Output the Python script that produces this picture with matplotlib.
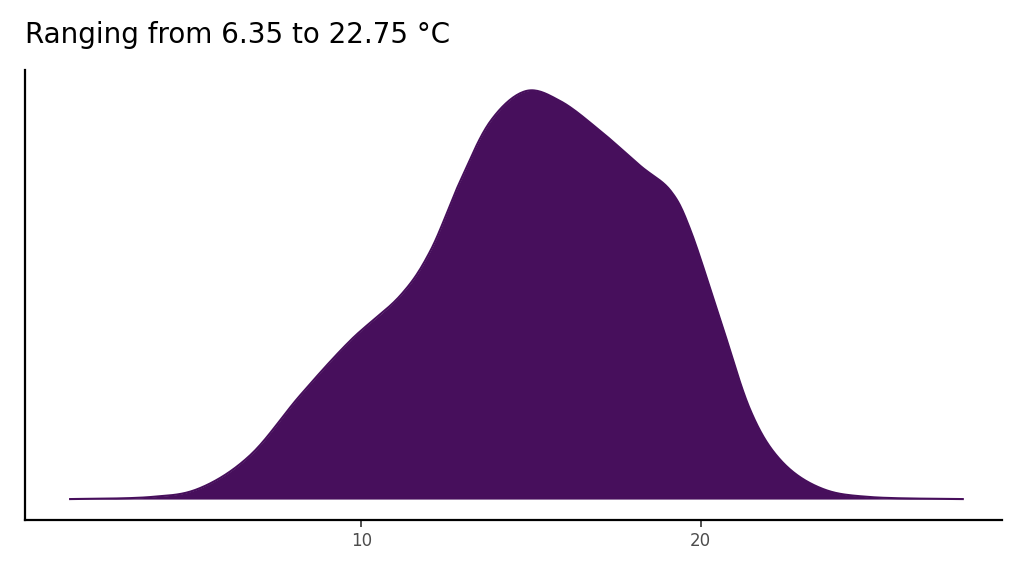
import numpy as np
import matplotlib
matplotlib.use("Agg")
import matplotlib.pyplot as plt

temp = [1.42, 3.78, 5.25, 6.73, 8.20, 9.68, 11.15, 12.04, 12.92, 13.81, 14.84,
        15.87, 17.05, 18.23, 19.12, 19.71, 20.59, 21.47, 22.36, 23.54, 25.01, 27.73]
density = [0, 2, 11, 44, 104, 159, 204, 249, 319, 379, 409,
           399, 369, 334, 309, 269, 179, 89, 39, 11, 2, 0]
xticks = [10, 20]
title = "Ranging from 6.35 to 22.75 °C"

# smooth drawing path (Catmull-Rom through the read points)
def catmull(xs, ys, n=20):
    P = np.column_stack([xs, ys]).astype(float)
    P = np.vstack([P[0], P, P[-1]])
    out = []
    for i in range(1, len(P) - 2):
        p0, p1, p2, p3 = P[i-1], P[i], P[i+1], P[i+2]
        for t in np.linspace(0, 1, n, endpoint=False):
            t2, t3 = t*t, t*t*t
            out.append(0.5*((2*p1) + (-p0+p2)*t + (2*p0-5*p1+4*p2-p3)*t2 + (-p0+3*p1-3*p2+p3)*t3))
    out.append(P[-2])
    out = np.array(out)
    return out[:, 0], np.clip(out[:, 1], 0, None)

sx, sy = catmull(temp, density)
col = "#470f5c"
fig = plt.figure(figsize=(10.24, 5.76), dpi=100)
ax = fig.add_axes([0.0244, 0.0972, 0.9546, 0.7808])
ax.fill_between(sx, 0, sy, color=col, linewidth=0)
ax.plot(sx, sy, color=col, lw=1.5)
ax.set_xlim(0.09, 28.9)
ax.set_ylim(-21, 430)
ax.set_xticks(xticks)
ax.set_yticks([])
ax.tick_params(axis='x', colors='#4d4d4d', labelsize=12, length=5, width=1.2)
ax.tick_params(axis='x', color='#333333')
for s in ['top', 'right']:
    ax.spines[s].set_visible(False)
for s in ['left', 'bottom']:
    ax.spines[s].set_linewidth(1.6)
fig.text(0.0244, 0.94, title, fontsize=20, ha='left', va='center')
fig.savefig("out.png")
